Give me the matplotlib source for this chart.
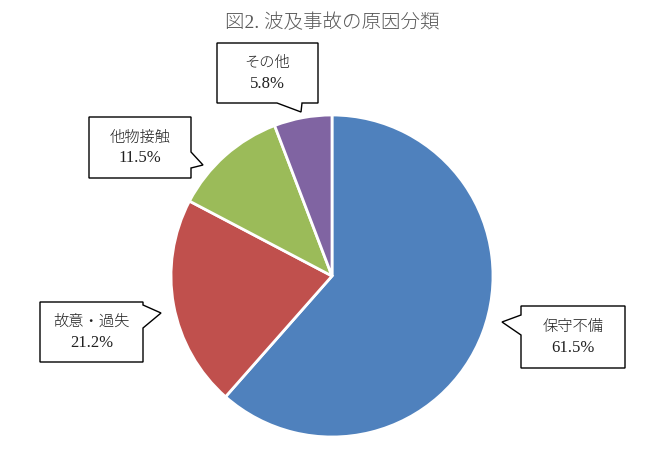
import matplotlib
matplotlib.use("Agg")
import matplotlib.pyplot as plt
from matplotlib.patches import Polygon

plt.rcParams['font.family'] = ['Liberation Serif', 'Noto Sans CJK JP', 'DejaVu Sans']

title = "図2. 波及事故の原因分類"
labels = ["保守不備", "故意・過失", "他物接触", "その他"]
values = [61.5, 21.2, 11.5, 5.8]
colors = ["#4F81BD", "#C0504D", "#9BBB59", "#8064A2"]

W, H = 656, 450

# callout boxes in pixel coords: (left, top, right, bottom), pointer (side, start, end, tip)
callouts = {
    "保守不備": ((521, 306, 625, 368), ("left", 315, 335, (502, 322))),
    "故意・過失": ((40, 302, 143, 362), ("right", 305, 328, (161, 313))),
    "他物接触": ((89, 117, 191, 178), ("right", 152, 168, (203, 165))),
    "その他": ((217, 43, 318, 103), ("bottom", 277, 302, (301, 112))),
}

fig = plt.figure(figsize=(W / 100, H / 100), dpi=100)
ax = fig.add_axes([0, 0, 1, 1])

def fy(y):
    return H - y

ax.pie(values, colors=colors, startangle=90, counterclock=False,
       center=(332, fy(276)), radius=161, frame=True,
       wedgeprops=dict(edgecolor="white", linewidth=2))
ax.set_xlim(0, W)
ax.set_ylim(0, H)
ax.set_aspect("equal")
ax.axis("off")

ax.text(332, fy(23), title, ha="center", va="center", fontsize=14,
        color="#595959", fontweight="light")

for lab, v in zip(labels, values):
    (l, t, r, b), (side, s0, s1, tip) = callouts[lab]
    if side == "left":
        pts = [(l, t), (r, t), (r, b), (l, b), (l, s1), tip, (l, s0)]
    elif side == "right":
        pts = [(l, t), (r, t), (r, s0), tip, (r, s1), (r, b), (l, b)]
    else:
        pts = [(l, t), (r, t), (r, b), (s1, b), tip, (s0, b), (l, b)]
    pts = [(x, fy(y)) for x, y in pts]
    ax.add_patch(Polygon(pts, closed=True, facecolor="white", edgecolor="black",
                         linewidth=1, zorder=5))
    cx = (l + r) / 2
    cy = (t + b) / 2
    ax.text(cx, fy(cy - 10), lab, ha="center", va="center", fontsize=11,
            color="#202020", fontweight="light", zorder=6)
    ax.text(cx, fy(cy + 11), f"{v}%", ha="center", va="center", fontsize=12,
            color="#202020", zorder=6)

fig.savefig("out.png", dpi=100)
